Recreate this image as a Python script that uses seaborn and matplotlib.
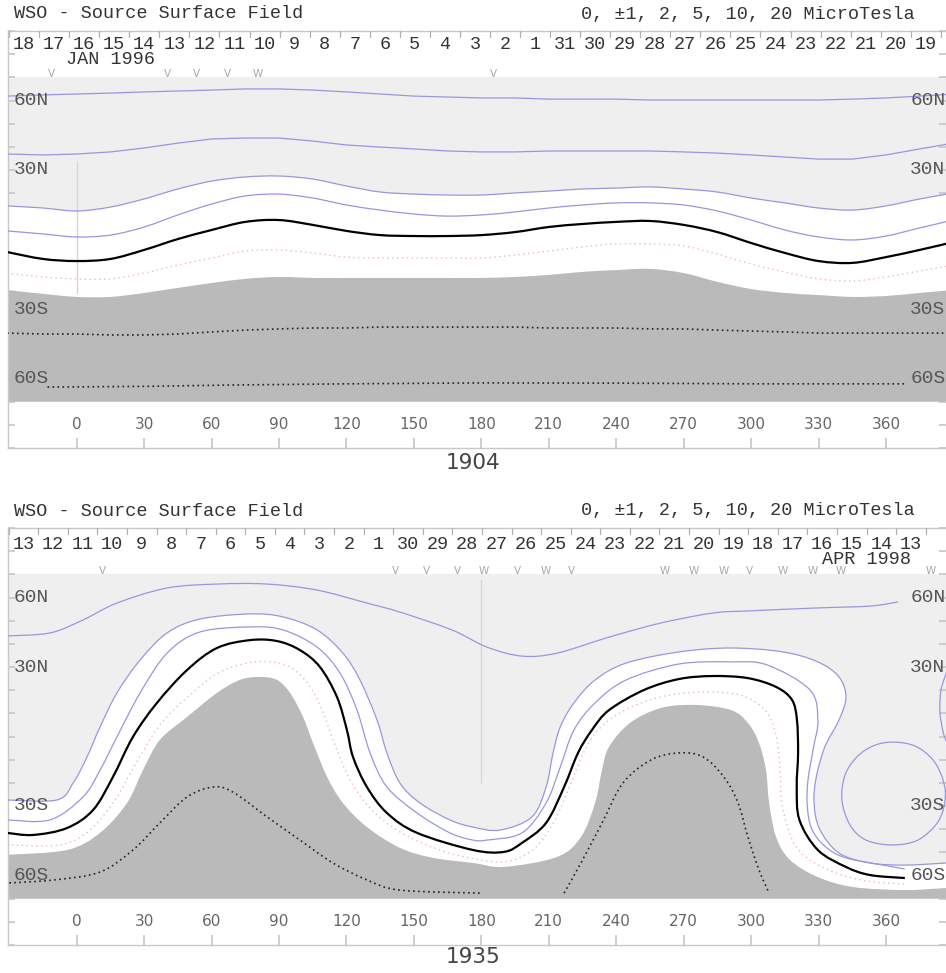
import numpy as np
import matplotlib
matplotlib.use("Agg")
import matplotlib.pyplot as plt
from matplotlib.path import Path
from matplotlib.patches import PathPatch
import seaborn as sns

sns.set_theme(style="white")
MONO = ["Liberation Mono", "DejaVu Sans Mono", "DejaVu Sans"]
SANS = ["DejaVu Sans"]
plt.rcParams["font.family"] = MONO

# ---------------- shared axis values ----------------
lon_ticks = [0, 30, 60, 90, 120, 150, 180, 210, 240, 270, 300, 330, 360]
lat_label_vals = [60, 30, -30, -60]
lat_label_text = ["60N", "30N", "30S", "60S"]
scale_text = "0, \u00b11, 2, 5, 10, 20 MicroTesla"
title_text = "WSO - Source Surface Field"

# ---------------- Carrington rotation 1904 ----------------
cr1904_lon = [-31, -15, 0, 15, 30, 45, 60, 75, 90, 105, 120, 135, 150, 165, 180,
              195, 210, 225, 240, 255, 270, 285, 300, 315, 330, 345, 360, 375, 390]
cr1904_p10 = [61.9, 62.4, 62.8, 63.2, 63.7, 64.1, 64.5, 65.0, 65.0, 64.5, 63.7, 62.8, 61.9, 61.5, 61.1,
              61.1, 60.6, 60.6, 60.6, 60.2, 60.2, 60.2, 60.2, 60.2, 60.2, 60.6, 61.1, 61.9, 62.8]
cr1904_p5 = [36.9, 36.5, 36.9, 37.8, 39.5, 41.6, 43.4, 43.8, 43.8, 42.5, 40.8, 39.9, 39.1, 38.2, 37.8,
             37.8, 38.2, 38.2, 38.2, 38.2, 37.8, 37.3, 36.5, 35.6, 34.7, 34.7, 36.5, 39.1, 41.6]
cr1904_p2 = [14.5, 13.6, 12.3, 14.0, 17.5, 21.8, 25.2, 27.0, 27.4, 26.1, 23.1, 20.5, 19.6, 19.2, 19.2,
             20.1, 20.9, 21.8, 22.2, 22.7, 21.8, 20.5, 17.9, 15.8, 13.6, 12.7, 14.5, 17.5, 20.1]
cr1904_p1 = [3.7, 2.4, 1.1, 1.9, 5.4, 10.6, 15.3, 18.8, 19.6, 17.9, 14.9, 12.7, 11.0, 10.1, 10.6,
             11.9, 13.6, 14.9, 15.8, 15.8, 14.9, 12.3, 8.4, 4.1, 1.1, -0.2, 1.5, 5.0, 8.4]
cr1904_zero = [-5.4, -8.4, -9.3, -8.4, -4.5, 0.2, 4.1, 7.6, 8.4, 6.3, 3.7, 1.9, 1.5, 1.5, 1.9,
               3.2, 5.4, 6.7, 7.6, 8.0, 6.3, 3.2, -1.5, -5.8, -9.3, -10.1, -7.6, -4.5, -1.1]
cr1904_m1 = [-14.5, -16.2, -17.0, -17.0, -14.5, -11.0, -8.0, -5.0, -4.5, -5.8, -7.6, -8.0, -8.0, -8.0, -8.0,
             -6.7, -5.0, -3.2, -1.9, -1.9, -2.8, -6.3, -10.6, -14.0, -17.0, -17.9, -16.2, -13.6, -11.0]
cr1904_m2 = [-21.8, -23.5, -24.8, -24.8, -23.1, -20.9, -18.8, -17.0, -16.2, -16.6, -16.6, -16.6, -16.6, -16.6, -16.6,
             -16.2, -15.3, -14.0, -13.2, -12.7, -14.5, -18.3, -21.4, -23.1, -24.0, -24.8, -24.4, -23.1, -21.8]
cr1904_m5 = [-40.4, -40.8, -40.8, -41.2, -41.2, -40.8, -39.9, -39.1, -38.6, -38.2, -38.2, -37.8, -37.8, -37.8, -37.8,
             -37.8, -38.2, -38.2, -38.2, -38.6, -38.6, -39.1, -39.5, -39.9, -40.4, -40.4, -40.4, -40.4, -40.4]
cr1904_m10_lon = [-13, 30, 70, 120, 180, 240, 300, 369]
cr1904_m10_lat = [-63.7, -63.4, -62.8, -62.3, -61.9, -62.0, -62.3, -62.3]

cr1904_days = [18, 17, 16, 15, 14, 13, 12, 11, 10, 9, 8, 7, 6, 5, 4, 3, 2, 1,
               31, 30, 29, 28, 27, 26, 25, 24, 23, 22, 21, 20, 19]
cr1904_day0, cr1904_dstep = -23.4, 13.37
cr1904_month = "JAN 1996"
cr1904_mark_lon = [-11.0, 40.6, 53.5, 66.9, 80.7, 185.2]
cr1904_mark_txt = ["V", "V", "V", "V", "W", "V"]
cr1904_cm = ([0, 0], [34, -23])

# ---------------- Carrington rotation 1935 ----------------
cr1935_zero_lon = [-31, -19.4, -4.3, 7.3, 16.1, 25.0, 35.7, 49.1, 62.4, 77.1, 89.1, 99.3, 108.2, 115.8,
                   120.2, 122.9, 129.1, 138.0, 151.4, 176.3, 190.1, 198.1, 208.8, 216.8, 223.0, 229.2,
                   236.8, 252.4, 267.9, 283.0, 298.6, 311.1, 318.2, 320.4, 320.9, 320.3, 321.5, 329.7,
                   342.2, 352.9, 368.4]
cr1935_zero_lat = [-41.6, -42.5, -39.5, -31.7, -17.5, -0.2, 14.5, 28.7, 38.2, 41.6, 41.2, 37.3, 30.0, 17.0,
                   2.8, -8.8, -21.8, -33.0, -41.6, -49.0, -49.8, -45.9, -37.3, -21.8, -7.1, 2.8,
                   11.4, 20.1, 24.8, 26.1, 25.2, 21.4, 15.8, 7.1, -7.1, -21.8, -36.0, -49.0,
                   -56.3, -59.8, -61.1]
cr1935_p1_lon = [-31, -11.9, 2.8, 10.4, 17.9, 28.2, 40.2, 54.8, 77.1, 91.8, 106.9, 117.1, 124.7, 130.5,
                 138.0, 151.4, 166.0, 176.3, 182.5, 198.1, 208.8, 215.1, 221.2, 230.6, 244.4, 267.9,
                 291.0, 307.1, 326.2, 329.7, 327.8, 325.3, 325.0, 327.0, 333.0, 342.2, 361.1, 368.4]
cr1935_p1_lat = [-36.0, -36.0, -26.1, -14.5, -0.2, 18.8, 36.0, 45.1, 47.3, 46.0, 38.6, 27.4, 11.4, -7.1,
                 -21.8, -33.0, -41.6, -44.7, -44.7, -41.6, -28.7, -13.2, 2.8, 14.5, 24.4, 31.3,
                 32.2, 30.9, 20.1, 7.1, -4.5, -18.8, -30.0, -40.0, -47.5, -52.4, -55.9, -57.2]
cr1935_p2_lon = [-31, -8.8, -1.6, 4.6, 10.4, 17.9, 28.2, 40.2, 54.8, 77.1, 91.8, 106.9, 118.4, 126.0,
                 133.6, 138.0, 143.8, 152.7, 166.0, 176.3, 188.3, 202.5, 208.8, 211.9, 215.1, 221.2,
                 230.6, 244.4, 267.9, 291.0, 314.2, 329.7, 339.1, 342.2, 339.1, 332.8, 329.0, 328.0,
                 330.5, 339.1, 352.9, 368.4, 387]
cr1935_p2_lat = [-27.4, -27.4, -20.1, -8.8, 4.1, 18.8, 33.0, 44.7, 50.7, 52.9, 51.6, 46.0, 36.0, 24.4,
                 7.1, -7.1, -20.1, -28.7, -36.0, -39.1, -40.4, -34.7, -21.8, -7.1, 4.1, 14.5,
                 24.4, 31.7, 36.5, 38.2, 36.5, 32.2, 25.7, 17.0, 7.1, -4.5, -17.5, -28.7,
                 -40.0, -50.3, -54.6, -55.5, -54.6]
cr1935_p5_lon = [-31, -11.9, 2.8, 17.9, 40.2, 62.4, 84.7, 106.9, 129.1, 143.8, 166.9, 182.5, 198.1,
                 213.7, 236.8, 259.9, 283.0, 298.6, 329.7, 352.9, 365.4]
cr1935_p5_lat = [43.4, 44.7, 50.3, 57.6, 64.1, 65.8, 65.8, 63.2, 57.6, 53.7, 46.0, 38.6, 34.7,
                 36.0, 42.9, 49.0, 53.3, 54.2, 55.5, 56.3, 58.1]
cr1935_loop_lon = [362.7, 372.9, 380.9, 385.4, 386.3, 383.1, 374.2, 362.7, 351.1, 344.0, 340.4, 341.8,
                   347.1, 354.2, 362.7]
cr1935_loop_lat = [-2.4, -4.1, -10.1, -18.8, -27.4, -36.9, -44.7, -46.8, -44.7, -38.2, -27.4, -16.6,
                   -8.8, -4.1, -2.4]
cr1935_edge_lon = [387, 384.5, 384.0, 385.4, 387]
cr1935_edge_lat = [27.8, 20.1, 10.6, 2.0, -2.4]
cr1935_m1_lon = [-31, -7.4, 5.9, 17.0, 25.9, 37.0, 50.4, 63.7, 79.4, 92.7, 101.6, 108.2, 114.9, 121.6,
                 130.5, 143.8, 161.6, 179.4, 192.7, 203.9, 212.8, 219.5, 226.1, 232.8, 243.9, 259.5,
                 277.3, 295.1, 306.2, 311.1, 312.9, 313.8, 319.5, 330.7, 348.4, 368.4]
cr1935_m1_lat = [-46.8, -46.8, -40.4, -27.4, -12.3, 5.0, 17.9, 27.8, 32.2, 30.9, 24.4, 13.6, -3.7, -18.8,
                 -30.9, -41.2, -49.0, -53.3, -53.7, -48.1, -36.0, -20.9, -5.8, 3.7, 11.4, 17.0,
                 19.2, 17.9, 11.4, 0.6, -14.5, -29.6, -46.8, -55.9, -61.9, -63.7]
cr1935_m2_lon = [-31, -4.3, 10.4, 22.4, 29.5, 37.0, 49.1, 62.4, 72.6, 81.5, 89.1, 94.9, 100.7, 105.1,
                 111.4, 118.4, 129.1, 143.8, 158.5, 176.3, 190.1, 213.7, 224.3, 230.6, 233.7, 236.8,
                 246.1, 259.9, 275.5, 291.0, 298.6, 303.5, 306.6, 308.0, 311.1, 317.3, 329.7, 345.4,
                 368.4, 387]
cr1935_m2_lat = [-51.1, -49.0, -41.6, -28.7, -14.5, -1.5, 8.4, 18.8, 24.4, 25.7, 24.4, 18.8, 8.4, -2.8,
                 -17.5, -28.7, -39.1, -48.1, -52.4, -54.6, -56.3, -52.0, -43.4, -28.7, -14.5, -4.5,
                 5.8, 12.3, 13.6, 11.4, 5.8, -2.8, -14.5, -28.7, -43.4, -53.3, -60.7, -65.0,
                 -66.3, -65.4]
cr1935_m5a_lon = [-30, -10, 10.4, 25.0, 37.0, 49.1, 60.7, 69.5, 84.7, 99.3, 114.0, 129.1, 143.8, 179.4]
cr1935_m5a_lat = [-63.2, -61.9, -58.5, -49.0, -37.3, -26.1, -21.8, -24.0, -34.7, -44.7, -54.6, -61.9, -66.3, -67.6]
cr1935_m5b_lon = [216.8, 224.3, 233.7, 243.0, 255.5, 267.9, 278.6, 287.9, 294.2, 298.6, 303.5, 308.0]
cr1935_m5b_lat = [-67.6, -54.6, -37.3, -20.1, -10.1, -7.1, -8.8, -17.5, -28.7, -43.4, -57.6, -67.6]

cr1935_days = [13, 12, 11, 10, 9, 8, 7, 6, 5, 4, 3, 2, 1,
               30, 29, 28, 27, 26, 25, 24, 23, 22, 21, 20, 19, 18, 17, 16, 15, 14, 13]
cr1935_day0, cr1935_dstep = -23.7, 13.16
cr1935_month = "APR 1998"
cr1935_mark_lon = [11.3, 141.6, 155.4, 169.2, 181.2, 196.3, 208.8, 220.3, 261.7, 274.6, 287.9,
                   299.5, 314.2, 327.5, 340.0, 380.0]
cr1935_mark_txt = ["V", "V", "V", "V", "W", "V", "W", "V", "W", "W", "W", "V", "W", "W", "W", "W"]
cr1935_cm = ([180, 180], [67.5, -20])

# ---------------- styling ----------------
W, H = 946, 973
LIGHT = "#efefef"
DARK = "#bababa"
BLUE = "#9797e0"
PINK = "#efb8b8"
DOTS = "#222222"
SPINE = "#c8c8c8"
TXT = "#333333"
XLIM = (-30.56, 386.7)

fig = plt.figure(figsize=(W / 100, H / 100), dpi=100)
fig.patch.set_facecolor("white")


def make_axes(top_px):
    # axes spanning latitude -90..90 whose top edge sits at top_px
    h = 417
    return fig.add_axes([8 / W, 1 - (top_px + h) / H, 938 / W, h / H])


def curve(lon, lat, closed=False):
    """Smooth Catmull-Rom style Bezier path through the given contour vertices."""
    P = np.column_stack([lon, lat]).astype(float)
    if closed:
        P = P[:-1]
    n = len(P)
    verts, codes = [P[0]], [Path.MOVETO]
    last = n if closed else n - 1
    for i in range(last):
        if closed:
            p0, p1, p2, p3 = P[(i - 1) % n], P[i], P[(i + 1) % n], P[(i + 2) % n]
        else:
            p0, p1, p2, p3 = P[max(i - 1, 0)], P[i], P[i + 1], P[min(i + 2, n - 1)]
        verts += [p1 + (p2 - p0) / 6, p2 - (p3 - p1) / 6, p2]
        codes += [Path.CURVE4] * 3
    return verts, codes


def contour(ax, lon, lat, color, lw, ls="-", z=3, closed=False):
    v, c = curve(lon, lat, closed)
    ax.add_patch(PathPatch(Path(v, c), fill=False, edgecolor=color, lw=lw,
                           linestyle=ls, zorder=z, capstyle="butt"))


def band(ax, up_lon, up_lat, lo_lon, lo_lat, color):
    v1, c1 = curve(up_lon, up_lat)
    v2, c2 = curve(lo_lon[::-1], lo_lat[::-1])
    c2[0] = Path.LINETO
    ax.add_patch(PathPatch(Path(v1 + v2 + [v1[0]], c1 + c2 + [Path.CLOSEPOLY]),
                           facecolor=color, edgecolor="none", lw=0, zorder=1))


def line(ax, lon, lat, color, lw, ls="-", z=3):
    sns.lineplot(x=lon, y=lat, sort=False, estimator=None, color=color,
                 linewidth=lw, linestyle=ls, ax=ax, zorder=z)


def frame(ax, days, day0, dstep, month, month_lon, month_ha, mark_lon, mark_txt, cm,
          day_lat, month_lat, year, year_y, title_y):
    ax.set_xlim(*XLIM)
    ax.set_ylim(-90, 90)
    ax.set_facecolor("white")
    for side in ("left", "top", "bottom"):
        ax.spines[side].set_color(SPINE)
        ax.spines[side].set_linewidth(1)
    ax.spines["right"].set_visible(False)
    ax.set_xticks(lon_ticks)
    ax.set_yticks(list(range(-90, 91, 10)))
    ax.tick_params(axis="x", direction="in", length=7, color=SPINE, bottom=True, top=False,
                   labelbottom=False)
    ax.tick_params(axis="y", direction="in", length=5, color=SPINE, left=True, right=True,
                   labelleft=False)
    ax.set_xlabel("")
    ax.set_ylabel("")
    ax.grid(False)

    # central meridian marker
    ax.plot(cm[0], cm[1], color="#d6d6d6", lw=1, zorder=2)

    # latitude labels on both sides
    for v, t in zip(lat_label_vals, lat_label_text):
        ax.text(-28.0, v, t, ha="left", va="center", fontsize=14, color="#555555",
                family=MONO, zorder=6)
        ax.text(386.5, v, t, ha="right", va="center", fontsize=14, color="#555555",
                family=MONO, zorder=6)

    # longitude labels inside the bottom strip
    for v in lon_ticks:
        ax.text(v, -80, str(v), ha="center", va="center", fontsize=11, color="#666666",
                family=SANS, zorder=6)

    # calendar row
    for i, d in enumerate(days):
        ax.text(day0 + i * dstep, day_lat, str(d), ha="center", va="center", fontsize=13.3,
                color=TXT, family=MONO, zorder=6)
    for i in range(len(days) + 1):
        x = day0 + (i - 0.5) * dstep
        ax.plot([x, x], [90, 87.6], color="#b0b0b0", lw=0.9, zorder=6)
    ax.text(month_lon, month_lat, month, ha=month_ha, va="center", fontsize=13.3, color=TXT,
            family=MONO, zorder=6)

    # observation markers
    for x, t in zip(mark_lon, mark_txt):
        ax.text(x, 71.4, t, ha="center", va="center", fontsize=7.5, color="#a8a8a8",
                family=SANS, zorder=6)

    fig.text(14 / W, 1 - title_y / H, title_text, ha="left", va="center", fontsize=13.3,
             color=TXT, family=MONO)
    fig.text(915 / W, 1 - title_y / H, scale_text, ha="right", va="center", fontsize=13.3,
             color=TXT, family=MONO)
    fig.text(473 / W, 1 - year_y / H, year, ha="center", va="center", fontsize=15.5,
             color="#444444", family=SANS)


# ---------------- panel 1: CR 1904 ----------------
ax1 = make_axes(31)
ax1.fill_between([-31, 390], -70, 70, color=LIGHT, lw=0, zorder=0)
band(ax1, cr1904_lon, cr1904_p2, cr1904_lon, cr1904_m2, "white")
band(ax1, cr1904_lon, cr1904_m2, [-31, 390], [-70, -70], DARK)
line(ax1, cr1904_lon, cr1904_p10, BLUE, 0.9)
line(ax1, cr1904_lon, cr1904_p5, BLUE, 0.9)
contour(ax1, cr1904_lon, cr1904_p2, BLUE, 0.9)
contour(ax1, cr1904_lon, cr1904_p1, BLUE, 0.9)
contour(ax1, cr1904_lon, cr1904_m1, PINK, 1.0, (0, (1, 2.5)))
contour(ax1, cr1904_lon, cr1904_zero, "black", 1.6, "-", 4)
line(ax1, cr1904_lon, cr1904_m5, DOTS, 1.2, (0, (1, 2)))
line(ax1, cr1904_m10_lon, cr1904_m10_lat, DOTS, 1.2, (0, (1, 2)))
frame(ax1, cr1904_days, cr1904_day0, cr1904_dstep, cr1904_month, -4.8, "left",
      cr1904_mark_lon, cr1904_mark_txt, cr1904_cm, 84.0, 77.5, "1904", 463, 14)

# ---------------- panel 2: CR 1935 ----------------
ax2 = make_axes(528)
ax2.fill_between([-31, 390], -70, 70, color=LIGHT, lw=0, zorder=0)
band(ax2, cr1935_p2_lon, cr1935_p2_lat, cr1935_m2_lon, cr1935_m2_lat, "white")
band(ax2, cr1935_m2_lon, cr1935_m2_lat, [-31, 387], [-70, -70], DARK)
contour(ax2, cr1935_p5_lon, cr1935_p5_lat, BLUE, 0.9)
contour(ax2, cr1935_p2_lon, cr1935_p2_lat, BLUE, 0.9)
contour(ax2, cr1935_p1_lon, cr1935_p1_lat, BLUE, 0.9)
contour(ax2, cr1935_loop_lon, cr1935_loop_lat, BLUE, 0.9, closed=True)
contour(ax2, cr1935_edge_lon, cr1935_edge_lat, BLUE, 0.9)
contour(ax2, cr1935_m1_lon, cr1935_m1_lat, PINK, 1.0, (0, (1, 2.5)))
contour(ax2, cr1935_zero_lon, cr1935_zero_lat, "black", 1.6, "-", 4)
contour(ax2, cr1935_m5a_lon, cr1935_m5a_lat, DOTS, 1.2, (0, (1, 2)))
contour(ax2, cr1935_m5b_lon, cr1935_m5b_lat, DOTS, 1.2, (0, (1, 2)))
frame(ax2, cr1935_days, cr1935_day0, cr1935_dstep, cr1935_month, 371.1, "right",
      cr1935_mark_lon, cr1935_mark_txt, cr1935_cm, 83.0, 76.5, "1935", 957, 511)

fig.savefig("out.png", dpi=100, facecolor="white")
